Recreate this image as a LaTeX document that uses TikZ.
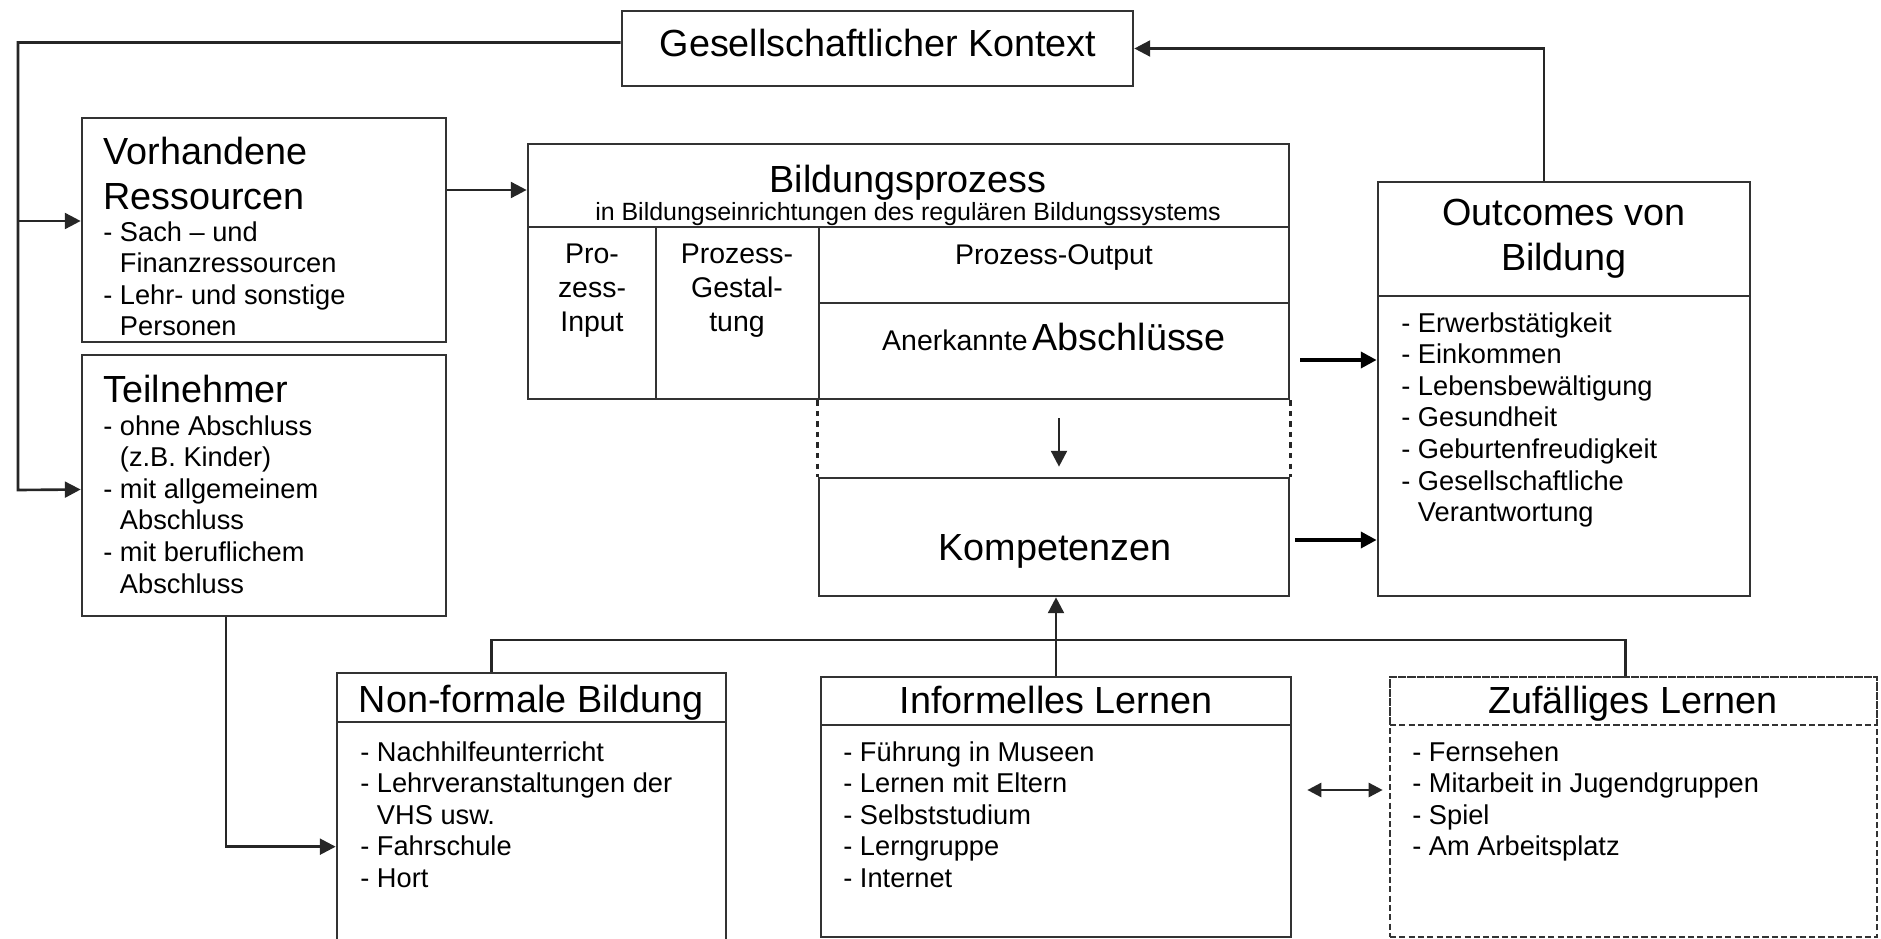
\documentclass[tikz,border=0pt]{standalone}
\usepackage{fontspec}
\setmainfont{Liberation Sans}
\usetikzlibrary{fit,calc,arrows.meta}
\newcommand{\ttlsize}{\fontsize{21.5}{25.5}\selectfont}
\newcommand{\itmsize}{\fontsize{15.5}{18}\selectfont}
\newcommand{\colsize}{\fontsize{16.2}{19.3}\selectfont}
\newcommand{\subsize}{\fontsize{14.2}{17}\selectfont}
\newcommand{\ind}{\phantom{-~}}
\tikzset{
  box/.style={draw=black!80,line width=1.5pt,inner sep=0pt},
  dbox/.style={box,dash pattern=on 3.5pt off 1.8pt},
  ttl/.style={font=\ttlsize,inner sep=0pt},
  col/.style={font=\colsize,align=center,inner sep=0pt},
  itm/.style={font=\itmsize,align=left,anchor=north west,inner sep=0pt},
  ln/.style={line width=1.5pt,draw=black!85},
  thk/.style={line width=2.2pt,draw=black},
  arr/.style={-{Triangle[length=9pt,width=9pt]}},
  darr/.style={{Triangle[length=8pt,width=8pt]}-{Triangle[length=8pt,width=8pt]}},
}
\begin{document}
\begin{tikzpicture}[x=0.02cm,y=-0.02cm]
\useasboundingbox (0,0) rectangle (1881,939);
% oben
\node[box,fit={(622,11) (1133,86)}] (ges) {};
\node[ttl,anchor=base] (ges-t) at (878,57) {Gesellschaftlicher Kontext};
% links
\node[box,fit={(82,118) (446,342)}] (res) {};
\node[ttl,anchor=north west,align=left] (res-t) at (103,137) {Vorhandene\\Ressourcen};
\node[itm] (res-i) at (103,221) {- Sach – und\\\ind Finanzressourcen\\- Lehr- und sonstige\\\ind Personen};
\node[box,fit={(82,355) (446,616)}] (teil) {};
\node[ttl,anchor=base west] (teil-t) at (103,402) {Teilnehmer};
\node[itm] (teil-i) at (103,415) {- ohne Abschluss\\\ind(z.B. Kinder)\\- mit allgemeinem\\\ind Abschluss\\- mit beruflichem\\\ind Abschluss};
% Bildungsprozess
\node[box,fit={(528,144) (1289,399)}] (bil) {};
\node[box,fit={(528,227) (656,399)}] (pin) {};
\node[box,fit={(656,227) (819,399)}] (pgest) {};
\node[box,fit={(819,227) (1289,303)}] (pout) {};
\node[box,fit={(819,303) (1289,399)}] (abs) {};
\node[ttl,anchor=base] (bil-t) at (908,193) {Bildungsprozess};
\node[font=\subsize,anchor=base,inner sep=0pt] (bil-s) at (908,221) {in Bildungseinrichtungen des regulären Bildungssystems};
\node[col,anchor=north] (pin-t) at (592,244) {Pro-\\zess-\\Input};
\node[col,anchor=north] (pgest-t) at (737,244) {Prozess-\\Gestal-\\tung};
\node[col,anchor=base] (pout-t) at (1054,265) {Prozess-Output};
\node[anchor=base,inner sep=0pt] (abs-t) at (1054,351) {{\colsize Anerkannte} {\ttlsize Abschlüsse}};
\node[box,fit={(819,478) (1289,596)}] (komp) {};
\node[ttl,anchor=base] (komp-t) at (1055,560) {Kompetenzen};
% Outcomes
\node[box,fit={(1378,182) (1750,596)}] (outc) {};
\node[box,fit={(1378,182) (1750,296)}] (outc-h) {};
\node[ttl,align=center,anchor=north] (outc-t) at (1564,199) {Outcomes von\\Bildung};
\node[itm] (outc-i) at (1401,312) {- Erwerbstätigkeit\\- Einkommen\\- Lebensbewältigung\\- Gesundheit\\- Geburtenfreudigkeit\\- Gesellschaftliche\\\ind Verantwortung};
% unten
\node[box,fit={(337,673) (726,945)}] (nfb) {};
\node[box,fit={(337,673) (726,722)}] (nfb-h) {};
\node[box,fit={(821,677) (1291,937)}] (inf) {};
\node[box,fit={(821,677) (1291,725)}] (inf-h) {};
\node[dbox,fit={(1390,677) (1877,937)}] (zuf) {};
\node[dbox,fit={(1390,677) (1877,725)}] (zuf-h) {};
\node[ttl,anchor=base] (nfb-t) at (531,712) {Non-formale Bildung};
\node[ttl,anchor=base] (inf-t) at (1056,713) {Informelles Lernen};
\node[ttl,anchor=base] (zuf-t) at (1633,713) {Zufälliges Lernen};
\node[itm] (nfb-i) at (360,741) {- Nachhilfeunterricht\\- Lehrveranstaltungen der\\\ind VHS usw.\\- Fahrschule\\- Hort};
\node[itm] (inf-i) at (843,741) {- Führung in Museen\\- Lernen mit Eltern\\- Selbststudium\\- Lerngruppe\\- Internet};
\node[itm] (zuf-i) at (1412,741) {- Fernsehen\\- Mitarbeit in Jugendgruppen\\- Spiel\\- Am Arbeitsplatz};
% Verbindungen
\coordinate (bus) at (18,490);
\draw[arr,ln] ($(ges.west)+(0,-6)$) -| (bus) -- ($(teil.west)+(0,4)$);
\draw[arr,ln] ($(bus |- res.west)+(0,-9)$) -- ($(res.west)+(0,-9)$);
\draw[arr,ln] ($(res.east)+(0,-40)$) -- ($(res.east -| bil.west)+(0,-40)$);
\draw[ln,dashed] (abs.south west) -- (komp.north west);
\draw[ln,dashed] (abs.south east) -- (komp.north east);
\draw[arr,ln] ($(abs.south)+(5,18)$) -- ($(komp.north)+(5,-10)$);
\draw[arr,thk] ($(abs.east)+(10,9)$) -- ($(abs.east -| outc.west)+(0,9)$);
\draw[arr,thk] ($(komp.east)+(5,3)$) -- ($(komp.east -| outc.west)+(0,3)$);
\draw[arr,ln] ($(outc.north)+(-20,0)$) |- (ges.east);
\coordinate (hub) at (1058,640);
\draw[ln] ($(nfb.north)+(-40,0)$) |- (hub) -| ($(zuf.north)+(-8,0)$);
\draw[arr,ln] (inf.north) -- (inf.north |- komp.south);
\draw[arr,ln] ($(teil.south)+(-38,0)$) |- ($(nfb.north west)+(0,175)$);
\draw[darr,ln] ($(inf.east)+(15,-17)$) -- ($(inf.east -| zuf.west)+(-6,-17)$);
\end{tikzpicture}
\end{document}
